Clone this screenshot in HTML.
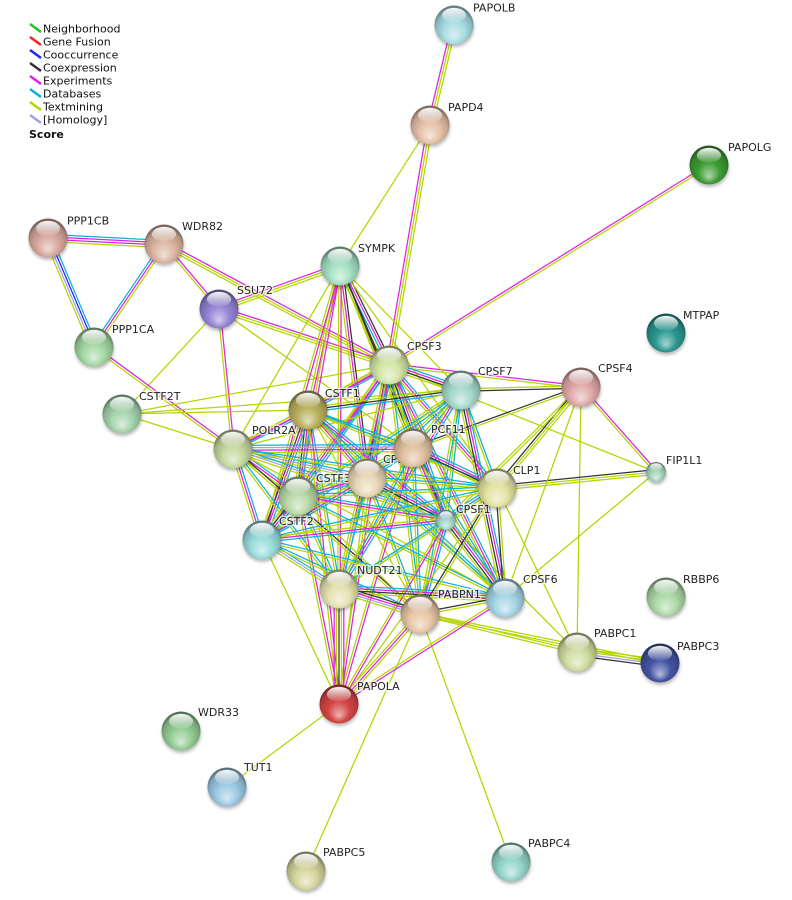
<!DOCTYPE html>
<html><head><meta charset="utf-8"><style>
html,body{margin:0;padding:0;background:#fff;}
svg{display:block;}
.lb{font-family:"DejaVu Sans","Liberation Sans",sans-serif;font-size:11px;fill:#222;stroke:#fff;stroke-width:3px;stroke-opacity:.65;paint-order:stroke;}
.lg{font-family:"DejaVu Sans","Liberation Sans",sans-serif;font-size:11px;fill:#111;}
</style></head><body>
<svg id="s" xmlns="http://www.w3.org/2000/svg" width="792" height="900" viewBox="0 0 792 900">
<defs id="defs">
<filter id="blur" x="-50%" y="-50%" width="200%" height="200%"><feGaussianBlur stdDeviation="1.6"/></filter>
<linearGradient id="hl" x1="0" y1="0" x2="0" y2="1"><stop offset="0" stop-color="#fff" stop-opacity=".95"/><stop offset="1" stop-color="#fff" stop-opacity=".08"/></linearGradient>
</defs>
<g id="legend">
<line x1="30" y1="24" x2="41" y2="32" stroke="#22c022" stroke-width="2.6"/><text class="lg" x="43" y="32.5">Neighborhood</text>
<line x1="30" y1="37" x2="41" y2="45" stroke="#ff2020" stroke-width="2.6"/><text class="lg" x="43" y="45.5">Gene Fusion</text>
<line x1="30" y1="50" x2="41" y2="58" stroke="#2020ff" stroke-width="2.6"/><text class="lg" x="43" y="58.5">Cooccurrence</text>
<line x1="30" y1="63" x2="41" y2="71" stroke="#333333" stroke-width="2.6"/><text class="lg" x="43" y="71.5">Coexpression</text>
<line x1="30" y1="76" x2="41" y2="84" stroke="#e020e0" stroke-width="2.6"/><text class="lg" x="43" y="84.5">Experiments</text>
<line x1="30" y1="89" x2="41" y2="97" stroke="#10b0d8" stroke-width="2.6"/><text class="lg" x="43" y="97.5">Databases</text>
<line x1="30" y1="102" x2="41" y2="110" stroke="#b5d400" stroke-width="2.6"/><text class="lg" x="43" y="110.5">Textmining</text>
<line x1="30" y1="115" x2="41" y2="123" stroke="#a0a0f0" stroke-width="2.6"/><text class="lg" x="43" y="123.5">[Homology]</text>
<text class="lg" x="29" y="138" font-weight="bold">Score</text>
</g>
<g id="ge"></g>
<g id="labels">
<text class="lb" x="473" y="11.5">PAPOLB</text>
<text class="lb" x="448" y="111">PAPD4</text>
<text class="lb" x="728" y="151">PAPOLG</text>
<text class="lb" x="67" y="224.5">PPP1CB</text>
<text class="lb" x="182" y="230">WDR82</text>
<text class="lb" x="358" y="252">SYMPK</text>
<text class="lb" x="237" y="294">SSU72</text>
<text class="lb" x="112" y="333">PPP1CA</text>
<text class="lb" x="683" y="319">MTPAP</text>
<text class="lb" x="407" y="350">CPSF3</text>
<text class="lb" x="478" y="375">CPSF7</text>
<text class="lb" x="598" y="372">CPSF4</text>
<text class="lb" x="139" y="400">CSTF2T</text>
<text class="lb" x="325" y="397">CSTF1</text>
<text class="lb" x="252" y="434">POLR2A</text>
<text class="lb" x="431" y="433">PCF11</text>
<text class="lb" x="383" y="463">CPSF2</text>
<text class="lb" x="666" y="464">FIP1L1</text>
<text class="lb" x="513" y="474">CLP1</text>
<text class="lb" x="316" y="482">CSTF3</text>
<text class="lb" x="456" y="513">CPSF1</text>
<text class="lb" x="279" y="525">CSTF2</text>
<text class="lb" x="357" y="574">NUDT21</text>
<text class="lb" x="438" y="598">PABPN1</text>
<text class="lb" x="523" y="583">CPSF6</text>
<text class="lb" x="683" y="583">RBBP6</text>
<text class="lb" x="594" y="637">PABPC1</text>
<text class="lb" x="677" y="650">PABPC3</text>
<text class="lb" x="357" y="690">PAPOLA</text>
<text class="lb" x="198" y="716">WDR33</text>
<text class="lb" x="244" y="771">TUT1</text>
<text class="lb" x="323" y="856">PABPC5</text>
<text class="lb" x="528" y="847">PABPC4</text>
</g>
<g id="gn"></g>
</svg>
<script>
(function(){
var NS='http://www.w3.org/2000/svg';
var N={
PAPOLB:[454,25,'#a6dde3'],PAPD4:[430,125,'#e6c0a6'],PAPOLG:[709,165,'#3c9c34'],
PPP1CB:[48,238,'#d8a89e'],WDR82:[164,244,'#dcb4a0'],SYMPK:[340,266,'#a4e0c4'],
SSU72:[219,309,'#9484d4'],PPP1CA:[94,347,'#a4d8a4'],MTPAP:[666,333,'#2a9890'],
CPSF3:[389,365,'#d2e4a4'],CPSF7:[461,390,'#a4d8cc'],CPSF4:[581,387,'#e2a8a8'],
CSTF2T:[122,414,'#a4d4ac'],CSTF1:[308,410,'#b8b05c'],POLR2A:[233,449,'#c4d8a0'],
PCF11:[413,448,'#e0bf9e'],FIP1L1:[656,472,'#a4d4b8',10],CLP1:[497,488,'#e2e2a0'],
CPSF2:[367,478,'#e8d6b4'],CSTF3:[298,496,'#b8d8a6'],CPSF1:[446,520,'#a4d4c4',10],
CSTF2:[262,540,'#98dcdc'],NUDT21:[339,589,'#e2e2b0'],PABPN1:[420,614,'#e6c6a4'],
CPSF6:[505,598,'#a4d4e4'],RBBP6:[666,597,'#acd8a6'],PABPC1:[577,652,'#d0dca0'],
PABPC3:[660,663,'#4454a4'],PAPOLA:[339,704,'#d44444'],WDR33:[181,731,'#94cc94'],
TUT1:[227,787,'#9cc8e4'],PABPC5:[306,871,'#d4d49c'],PABPC4:[511,862,'#94d4c8']};
var C={n:'#22c022',f:'#ff2020',o:'#2020ff',c:'#333333',e:'#e020e0',d:'#10b0d8',t:'#b5d400',h:'#a0a0f0'};
var E='PAPOLB-PAPD4:tte PAPD4-CPSF3:tte PAPD4-SYMPK:t PAPOLG-CPSF3:te '+
'PPP1CB-WDR82:deet PPP1CB-PPP1CA:doht WDR82-PPP1CA:ted WDR82-SSU72:et WDR82-CPSF3:ett '+
'SSU72-SYMPK:ett SSU72-CPSF3:ett SSU72-POLR2A:et SSU72-CSTF2T:t SSU72-PCF11:t PPP1CA-POLR2A:et '+
'CSTF2T-CPSF3:t CSTF2T-CSTF1:t CSTF2T-POLR2A:t CSTF2T-CPSF7:t PAPOLA-TUT1:t '+
'PABPN1-PABPC5:t PABPN1-PABPC4:t PABPN1-PABPC1:tt PABPN1-PABPC3:tt PABPC1-PABPC3:tthc '+
'CLP1-PABPC1:t CPSF1-PABPC1:t CPSF4-PABPC1:t CPSF4-FIP1L1:et CPSF3-FIP1L1:t CLP1-FIP1L1:ctt FIP1L1-CPSF6:t '+
'CPSF3-CPSF4:et CPSF7-CPSF4:tc PCF11-CPSF4:ct CLP1-CPSF4:ctt CPSF1-CPSF4:tt CPSF4-CPSF6:t '+
'PAPOLA-CPSF6:te PAPOLA-PABPN1:tet '+
'SYMPK-CPSF3:cedt SYMPK-CSTF1:et SYMPK-CPSF2:cet SYMPK-CSTF3:et SYMPK-CSTF2:et SYMPK-POLR2A:t SYMPK-CPSF1:ct SYMPK-PCF11:ct SYMPK-NUDT21:et SYMPK-CPSF7:t SYMPK-CLP1:t '+
'CPSF3-CPSF7:dect CPSF3-CSTF1:det CPSF3-POLR2A:et CPSF3-PCF11:dt CPSF3-CPSF2:dect CPSF3-CSTF3:det CPSF3-CPSF1:dect CPSF3-CSTF2:det CPSF3-NUDT21:det CPSF3-PABPN1:dt CPSF3-CPSF6:det CPSF3-CLP1:det CPSF3-PAPOLA:et '+
'CPSF7-CSTF1:dct CPSF7-PCF11:dt CPSF7-CPSF2:dt CPSF7-CSTF3:dt CPSF7-CPSF1:dt CPSF7-CSTF2:dt CPSF7-NUDT21:det CPSF7-CPSF6:dect CPSF7-CLP1:dt CPSF7-PABPN1:dt CPSF7-POLR2A:t '+
'CSTF1-POLR2A:det CSTF1-PCF11:dt CSTF1-CPSF2:det CSTF1-CSTF3:dect CSTF1-CPSF1:det CSTF1-CSTF2:dect CSTF1-NUDT21:dt CSTF1-CLP1:dt CSTF1-PABPN1:t CSTF1-CPSF6:dt CSTF1-PAPOLA:et '+
'POLR2A-PCF11:dhet POLR2A-CPSF2:dht POLR2A-CSTF3:det POLR2A-CPSF1:dht POLR2A-CSTF2:det POLR2A-NUDT21:dt POLR2A-CLP1:dt POLR2A-CPSF6:t POLR2A-PABPN1:ct '+
'PCF11-CPSF2:det PCF11-CSTF3:dt PCF11-CPSF1:det PCF11-CSTF2:dt PCF11-NUDT21:dt PCF11-CLP1:dect PCF11-CPSF6:dt PCF11-PABPN1:dt PCF11-PAPOLA:et '+
'CPSF2-CSTF3:det CPSF2-CPSF1:dect CPSF2-CSTF2:det CPSF2-NUDT21:dt CPSF2-CLP1:dt CPSF2-PABPN1:dt CPSF2-CPSF6:dt CPSF2-PAPOLA:t '+
'CSTF3-CPSF1:det CSTF3-CSTF2:dect CSTF3-NUDT21:dt CSTF3-CLP1:dt CSTF3-PABPN1:t CSTF3-CPSF6:dt CSTF3-PAPOLA:et '+
'CPSF1-CSTF2:det CPSF1-NUDT21:dt CPSF1-CLP1:dect CPSF1-CPSF6:dect CPSF1-PABPN1:det CPSF1-PAPOLA:et '+
'CSTF2-NUDT21:dht CSTF2-CLP1:dt CSTF2-PABPN1:dt CSTF2-CPSF6:dt CSTF2-PAPOLA:t '+
'NUDT21-CPSF6:dect NUDT21-PABPN1:ceht NUDT21-CLP1:dt NUDT21-PAPOLA:etcte '+
'PABPN1-CPSF6:ct PABPN1-CLP1:ct CPSF6-CLP1:ct CLP1-PAPOLA:t';
function el(tag,a,p){var e=document.createElementNS(NS,tag);for(var k in a)e.setAttribute(k,a[k]);p.appendChild(e);return e;}
var gE=document.getElementById('ge'),gN=document.getElementById('gn'),defs=document.getElementById('defs');
E.split(/\s+/).forEach(function(s){
  if(!s)return;var p=s.split(':'),ab=p[0].split('-'),ch=p[1];
  var A=N[ab[0]],B=N[ab[1]];if(!A||!B)return;
  var dx=B[0]-A[0],dy=B[1]-A[1],L=Math.sqrt(dx*dx+dy*dy),px=-dy/L,py=dx/L,k=ch.length;
  for(var i=0;i<k;i++){var o=(i-(k-1)/2)*2.4;
    el('line',{x1:(A[0]+px*o).toFixed(1),y1:(A[1]+py*o).toFixed(1),x2:(B[0]+px*o).toFixed(1),y2:(B[1]+py*o).toFixed(1),stroke:C[ch[i]],'stroke-width':1.25},gE);}
});
function hx(c){return [parseInt(c.substr(1,2),16),parseInt(c.substr(3,2),16),parseInt(c.substr(5,2),16)];}
function mix(c,t,f){var a=hx(c);return 'rgb('+a.map(function(v){return Math.round(v+(t-v)*f);}).join(',')+')';}
var i=0;
for(var name in N){
  var n=N[name],x=n[0],y=n[1],col=n[2],r=n[3]||19.5,id='g'+(i++);
  var g=el('radialGradient',{id:id,cx:'0.5',cy:'0.58',r:'0.55',fx:'0.5',fy:'0.8'},defs);
  el('stop',{offset:'0','stop-color':mix(col,255,0.6)},g);
  el('stop',{offset:'0.5','stop-color':col},g);
  el('stop',{offset:'0.85','stop-color':mix(col,0,0.18)},g);
  el('stop',{offset:'1','stop-color':mix(col,0,0.45)},g);
  el('ellipse',{cx:x+0.5,cy:y+2.5,rx:r,ry:r,fill:'#000','fill-opacity':'0.28',filter:'url(#blur)'},gN);
  el('circle',{cx:x,cy:y,r:r,fill:'url(#'+id+')'},gN);
  el('ellipse',{cx:x,cy:(y-r*0.5).toFixed(1),rx:(r*0.62).toFixed(1),ry:(r*0.38).toFixed(1),fill:'url(#hl)'},gN);
}
})();
</script>
</body></html>
